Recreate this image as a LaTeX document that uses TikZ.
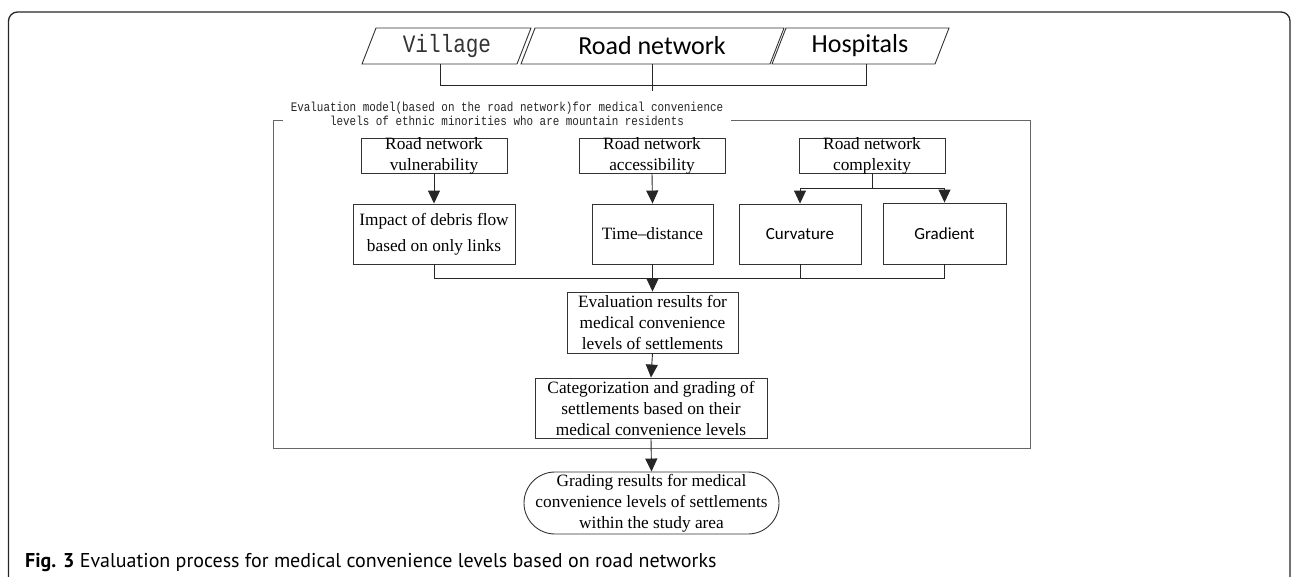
\documentclass[tikz,border=0pt]{standalone}
\usepackage{fontspec}
\setmainfont{Liberation Serif}
\newfontfamily\calfont{Carlito}
\newfontfamily\simfont[FakeStretch=0.84]{Liberation Mono}
\newfontfamily\capfont{PT Sans}
\usetikzlibrary{arrows.meta}
\tikzset{
  box/.style={draw=black!80, line width=0.9pt, inner sep=0pt},
  tm/.style={font=\fontsize{17.3}{21}\selectfont, align=center, inner sep=0pt},
  cb/.style={font=\calfont\fontsize{17}{21}\selectfont, align=center, inner sep=0pt},
  conn/.style={draw=black!85, line width=0.9pt},
  arr/.style={conn, -{Triangle[length=13pt,width=12pt]}},
  para/.style={draw=black!80, line width=0.9pt},
}
\begin{document}
\begin{tikzpicture}[x=1pt,y=-1pt]
\useasboundingbox (0,0) rectangle (1292,576);
\begin{scope}
\clip (0,0) rectangle (1292,576);
\draw[black!85, line width=1.3pt, rounded corners=9pt] (8.5,600) -- (8.5,12) -- (1290,12) -- (1290,600);
\end{scope}

% input parallelograms
\draw[para] (362,64) -- (376,28) -- (531,28) -- (517,64) -- cycle;
\draw[para] (521,64) -- (535,28) -- (784,28) -- (770,64) -- cycle;
\draw[para] (772,64) -- (786,28) -- (949,28) -- (935,64) -- cycle;
\node[inner sep=0pt, font=\simfont\fontsize{25}{25}\selectfont, text=black!80] (village) at (447,46) {Village};
\node[inner sep=0pt, font=\calfont\fontsize{26}{26}\selectfont] (road) at (652,46) {Road network};
\node[inner sep=0pt, font=\calfont\fontsize{26}{26}\selectfont] (hosp) at (860,46) {Hospitals};
\coordinate (vB) at (440,64);
\coordinate (rB) at (652,64);
\coordinate (hB) at (866,64);
\coordinate (rE) at (652,91);
\draw[conn] (vB) -- (vB |- 0,85) -- (hB |- 0,85) -- (hB);
\draw[conn] (rB) -- (rE);

% inner frame
\draw[black!60, line width=0.9pt] (273,120) rectangle (1030,448);
\node[fill=white, inner xsep=8pt, inner ysep=1pt, align=center,
      font=\simfont\fontsize{13}{14}\selectfont, text=black!85] (title) at (507,114)
  {Evaluation model(based on the road network)for medical convenience\\levels of ethnic minorities who are mountain residents};

% first row
\node[box, minimum width=146, minimum height=35] (vul) at (434,155.5) {};
\node[tm] (vult) at (434,156) {Road network\\vulnerability};
\node[box, minimum width=146, minimum height=35] (acc) at (652,155.5) {};
\node[tm] (acct) at (652,156) {Road network\\accessibility};
\node[box, minimum width=146, minimum height=35] (cpx) at (872,155.5) {};
\node[tm] (cpxt) at (872,156) {Road network\\complexity};

% second row
\node[box, tm, draw=black!80, minimum width=162, minimum height=60] (imp) at (434,234) {Impact of debris flow\\[5pt]based on only links};
\node[box, tm, draw=black!80, minimum width=121, minimum height=60] (td) at (652.5,234) {Time--distance};
\node[box, cb, draw=black!80, minimum width=122, minimum height=60] (curv) at (800,234) {Curvature};
\node[box, cb, draw=black!80, minimum width=123, minimum height=61] (grad) at (944.5,233.5) {Gradient};

% lower boxes
\node[box, tm, draw=black!80, minimum width=171, minimum height=61] (eval) at (652.5,322.5) {Evaluation results for\\medical convenience\\levels of settlements};
\node[box, tm, draw=black!80, minimum width=232, minimum height=60] (cat) at (651,408) {Categorization and grading of\\settlements based on their\\medical convenience levels};
\node[box, tm, draw=black!80, minimum width=255, minimum height=62, rounded corners=31pt] (grd) at (651.5,503) {Grading results for medical\\convenience levels of settlements\\within the study area};

% connectors
\draw[arr] (vul.south) -- (imp.north);
\draw[arr] (acc.south) -- (td.north);
\coordinate (brc) at (872,188);
\draw[conn] (cpx.south) -- (brc);
\draw[arr] (brc) -| (curv.north);
\draw[arr] (brc) -| (grad.north);
\coordinate (col) at (652.5,278);
\draw[conn] (imp.south) |- (col);
\draw[conn] (td.south) -- (col);
\draw[conn] (curv.south) |- (col);
\draw[conn] (grad.south) |- (col);
\draw[arr] (col) -- (eval.north);
\draw[arr] (eval.south) -- (cat.north);
\draw[arr] (cat.south) -- (grd.north);

% caption
\node[anchor=base west, inner sep=0pt, font=\capfont\fontsize{20}{22}\selectfont] (cap) at (25,567)
  {\textbf{Fig. 3} Evaluation process for medical convenience levels based on road networks};
\end{tikzpicture}
\end{document}
